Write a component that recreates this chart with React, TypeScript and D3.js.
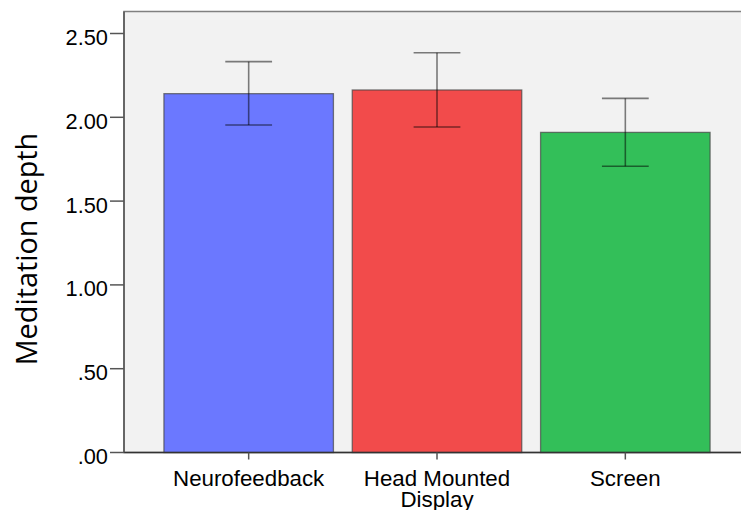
import React from "react";
import * as d3 from "d3";

// values (mean with error bars)
const groups = ["Neurofeedback", "Head Mounted Display", "Screen"];
const means = [2.141, 2.163, 1.91];
const lower = [1.954, 1.942, 1.708];
const upper = [2.332, 2.385, 2.113];
const barColors = ["#6b78ff", "#f24b4b", "#33bf59"];
const yTicks = [0, 0.5, 1, 1.5, 2, 2.5];
const yTickText = [".00", ".50", "1.00", "1.50", "2.00", "2.50"];

const W = 741;
const H = 510;
const margin = { top: 11.5, left: 124, bottom: 57, right: -9 };

export default function App() {
  const x = d3
    .scaleBand()
    .domain(groups)
    .range([margin.left, W - margin.right])
    .paddingInner(0.1)
    .paddingOuter(0.212);
  const y = d3.scaleLinear().domain([0, 2.5]).range([452.5, 33.5]);
  const top = margin.top;
  const bottom = y(0);
  const capW = x.bandwidth() * 0.276;

  // split long category names over two lines, like SPSS does
  const lines = (g: string) => (g === "Head Mounted Display" ? ["Head Mounted", "Display"] : [g]);

  return (
    <svg width={W} height={H} style={{ position: "absolute", left: 0, top: 0, background: "#fff" }}>
      <rect x={margin.left} y={top} width={W - margin.left + 5} height={bottom - top} fill="#f2f2f2" stroke="#808080" strokeWidth={1.5} />

      {groups.map((g, i) => (
        <rect
          key={g}
          x={x(g)}
          y={y(means[i])}
          width={x.bandwidth()}
          height={bottom - y(means[i])}
          fill={barColors[i]}
          stroke="#444"
          strokeOpacity={0.7}
          strokeWidth={1.3}
        />
      ))}

      {/* error bars */}
      {groups.map((g, i) => {
        const cx = (x(g) as number) + x.bandwidth() / 2;
        return (
          <g key={g} stroke="#000" strokeOpacity={0.5} strokeWidth={1.6}>
            <line x1={cx} x2={cx} y1={y(upper[i])} y2={y(lower[i])} />
            <line x1={cx - capW / 2} x2={cx + capW / 2} y1={y(upper[i])} y2={y(upper[i])} />
            <line x1={cx - capW / 2} x2={cx + capW / 2} y1={y(lower[i])} y2={y(lower[i])} />
          </g>
        );
      })}

      {/* axes */}
      <line x1={margin.left} x2={W} y1={bottom} y2={bottom} stroke="#333" strokeWidth={1.5} />
      <line x1={margin.left} x2={margin.left} y1={top} y2={bottom} stroke="#555" strokeWidth={1.5} />

      {yTicks.map((t, i) => (
        <g key={t}>
          <line x1={margin.left - 14} x2={margin.left} y1={y(t)} y2={y(t)} stroke="#555" strokeWidth={1.5} />
          <text
            x={108}
            y={y(t) + 11.5}
            textAnchor="end"
            fontFamily="Liberation Sans, Arial, sans-serif"
            fontSize={21.8}
            fill="#000"
          >
            {yTickText[i]}
          </text>
        </g>
      ))}

      {groups.map((g) => {
        const cx = (x(g) as number) + x.bandwidth() / 2;
        return (
          <g key={g}>
            <line x1={cx} x2={cx} y1={bottom} y2={bottom + 7} stroke="#555" strokeWidth={1.5} />
            {lines(g).map((l, j) => (
              <text
                key={l}
                x={cx}
                y={485.5 + j * 21}
                textAnchor="middle"
                fontFamily="Liberation Sans, Arial, sans-serif"
                fontSize={22.3}
                fill="#000"
              >
                {l}
              </text>
            ))}
          </g>
        );
      })}

      <text
        transform={`translate(37,${(133 + 365) / 2}) rotate(-90)`}
        textAnchor="middle"
        fontFamily="Open Sans, sans-serif"
        fontSize={28.8}
        fill="#000"
      >
        Meditation depth
      </text>
    </svg>
  );
}
